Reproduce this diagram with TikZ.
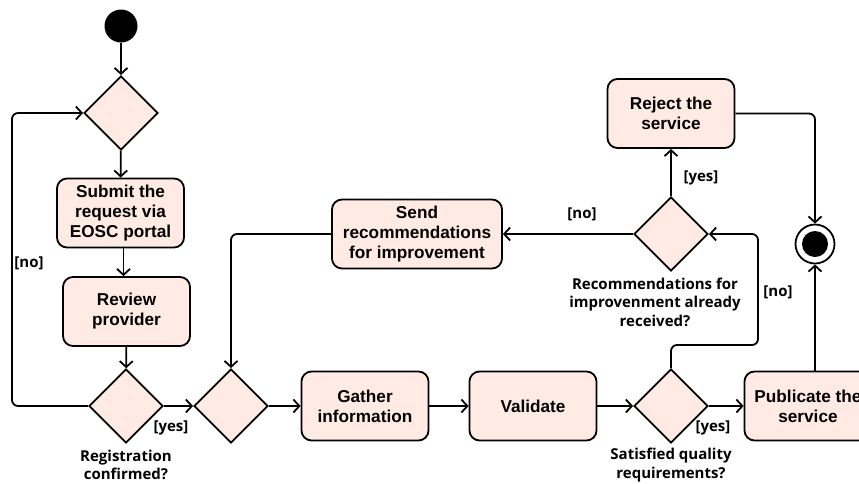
\documentclass[tikz,border=0pt]{standalone}
\usepackage{fontspec}
\setmainfont{Liberation Sans}
\newfontfamily\lblfont{Open Sans}
\usetikzlibrary{arrows.meta,shapes.geometric}
\definecolor{boxfill}{RGB}{255,235,227}
\begin{document}
\begin{tikzpicture}[x=1pt,y=-1pt,
 act/.style={draw,line width=1.8pt,fill=boxfill,rounded corners=10pt,minimum width=127pt,minimum height=69pt,align=center,font=\bfseries\fontsize{17.2}{20}\selectfont,inner sep=0pt},
 dec/.style={draw,line width=1.8pt,fill=boxfill,diamond,minimum width=74pt,minimum height=74pt,inner sep=0pt,aspect=1},
 arr/.style={line width=1.8pt,-{Straight Barb[length=6pt,width=13pt,line width=1.8pt]}},
 lbl/.style={font=\lblfont\bfseries\fontsize{15}{18.5}\selectfont,align=center,inner sep=0pt},
]
\useasboundingbox (0,0) rectangle (859,483);
\clip (0,0) rectangle (859,483);
% nodes
\node[circle,fill=black,minimum size=33pt,inner sep=0pt] (start) at (121,26) {};
\node[dec] (d1) at (121,113) {};
\node[act] (submit) at (120.5,213) {Submit the\\request via\\EOSC portal};
\node[act] (review) at (126.5,311.5) {Review\\provider};
\node[dec] (reg) at (126,406) {};
\node[dec] (merge) at (231,406) {};
\node[act] (gather) at (365,406) {Gather\\information};
\node[act] (valid) at (533,406) {Validate};
\node[dec] (sat) at (671,406) {};
\node[act] (pub) at (808,406) {Publicate the\\service};
\node[dec] (rec) at (671,234) {};
\node[act,minimum width=170pt] (send) at (417,234) {Send\\recommendations\\for improvement};
\node[act] (rej) at (671,113.5) {Reject the\\service};
\node[circle,draw,line width=1.8pt,fill=white,minimum size=39pt,inner sep=0pt] (fin) at (815,244) {};
\node[circle,fill=black,minimum size=26pt,inner sep=0pt] (fincore) at (fin.center) {};
\coordinate (loopx) at (12,260);
\coordinate (kink) at (758,345);
% labels
\node[lbl] (lno1) at (29,263) {[no]};
\node[lbl] (lyes1) at (171,428) {[yes]};
\node[lbl] (lreg) at (126,465) {Registration\\confirmed?};
\node[lbl] (lno2) at (582,214) {[no]};
\node[lbl] (lyes2) at (701,178) {[yes]};
\node[lbl] (lno3) at (778,292) {[no]};
\node[lbl] (lyes3) at (713,428) {[yes]};
\node[lbl] (lsat) at (671,465) {Satisfied quality\\requirements?};
\node[lbl] (lrec) at (655,302) {Recommendations for\\improvenment already\\received?};
% connectors
\draw[arr] (start) -- (d1);
\draw[arr] (d1) -- (submit);
\draw[arr] ([xshift=3pt]submit.south) -- ([xshift=-3pt]review.north);
\draw[arr] (review) -- (reg);
\draw[arr,rounded corners=6pt] (reg.west) -| (loopx) |- (d1.west);
\draw[arr] (reg.east) -- (merge.west);
\draw[arr] (merge.east) -- (gather.west);
\draw[arr] (gather.east) -- (valid.west);
\draw[arr] (valid.east) -- (sat.west);
\draw[arr] (sat.east) -- (pub.west);
\draw[arr,rounded corners=6pt] (sat.north) |- (kink) |- (rec.east);
\draw[arr] (rec.west) -- (send.east);
\draw[arr,rounded corners=6pt] (send.west) -| (merge.north);
\draw[arr] (rec.north) -- (rej.south);
\draw[arr,rounded corners=6pt] (rej.east) -| (fin.north);
\draw[arr] (pub.north -| fin.south) -- (fin.south);
\end{tikzpicture}
\end{document}
